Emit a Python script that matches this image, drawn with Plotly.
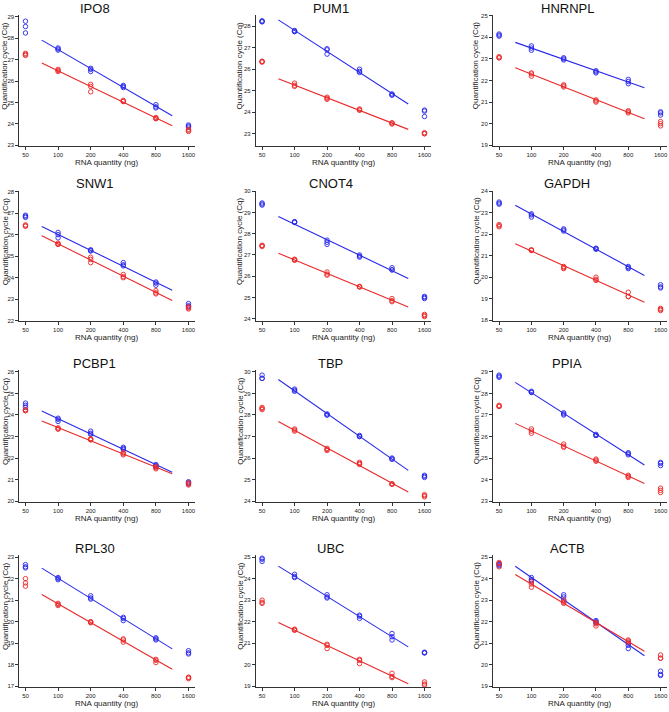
import numpy as np
import plotly.graph_objects as go

# ---------------- data ----------------
RNA_QTY = [50, 100, 200, 400, 800, 1600]
TICK_LABELS = ["50", "100", "200", "400", "800", "1600"]
GENES = ["IPO8", "PUM1", "HNRNPL", "SNW1", "CNOT4", "GAPDH",
         "PCBP1", "TBP", "PPIA", "RPL30", "UBC", "ACTB"]

# Cq replicates per RNA quantity (blue series / red series)
IPO8_BLUE = [[28.8, 28.55, 28.25], [27.55, 27.5, 27.45], [26.6, 26.55, 26.45],
             [25.8, 25.75, 25.7], [24.9, 24.8, 24.75], [23.95, 23.9, 23.85]]
IPO8_RED = [[27.3, 27.25, 27.2], [26.55, 26.5, 26.45], [25.85, 25.75, 25.5],
            [25.1, 25.05, 25.05], [24.3, 24.25, 24.25], [23.75, 23.7, 23.65]]

PUM1_BLUE = [[28.25, 28.22, 28.2], [27.8, 27.75, 27.75], [26.95, 26.9, 26.7],
             [26.0, 25.9, 25.85], [24.85, 24.8, 24.8], [24.1, 24.05, 23.8]]
PUM1_RED = [[26.37, 26.35, 26.33], [25.35, 25.25, 25.2], [24.7, 24.65, 24.6],
            [24.15, 24.1, 24.1], [23.5, 23.5, 23.45], [23.05, 23.0, 23.0]]

HNRNPL_BLUE = [[24.15, 24.1, 24.05], [23.6, 23.5, 23.4], [23.05, 23.0, 22.95],
               [22.45, 22.4, 22.35], [22.05, 21.95, 21.85], [20.55, 20.5, 20.4]]
HNRNPL_RED = [[23.1, 23.05, 23.05], [22.35, 22.3, 22.2], [21.8, 21.75, 21.7],
              [21.1, 21.05, 21.0], [20.6, 20.55, 20.5], [20.1, 20.0, 19.9]]

SNW1_BLUE = [[26.9, 26.85, 26.8], [26.1, 26.0, 25.85], [25.3, 25.25, 25.25],
             [24.7, 24.6, 24.55], [23.8, 23.75, 23.65], [22.8, 22.7, 22.65]]
SNW1_RED = [[26.45, 26.4, 26.4], [25.6, 25.55, 25.55], [24.95, 24.85, 24.7],
            [24.15, 24.05, 24.0], [23.4, 23.3, 23.25], [22.65, 22.6, 22.55]]

CNOT4_BLUE = [[29.45, 29.4, 29.35], [28.57, 28.55, 28.53], [27.7, 27.6, 27.5],
              [27.0, 26.95, 26.9], [26.4, 26.3, 26.3], [25.05, 25.0, 24.95]]
CNOT4_RED = [[27.45, 27.45, 27.4], [26.8, 26.78, 26.75], [26.2, 26.1, 26.05],
             [25.52, 25.5, 25.5], [24.95, 24.85, 24.8], [24.2, 24.15, 24.1]]

GAPDH_BLUE = [[23.5, 23.45, 23.4], [22.95, 22.9, 22.8], [22.25, 22.2, 22.15],
              [21.35, 21.33, 21.3], [20.5, 20.45, 20.4], [19.65, 19.55, 19.5]]
GAPDH_RED = [[22.45, 22.4, 22.35], [21.28, 21.25, 21.25], [20.5, 20.45, 20.4],
             [20.0, 19.9, 19.85], [19.3, 19.1, 19.1], [18.55, 18.5, 18.45]]

PCBP1_BLUE = [[24.55, 24.45, 24.35], [23.85, 23.8, 23.7], [23.25, 23.15, 23.1],
              [22.5, 22.45, 22.4], [21.7, 21.65, 21.6], [20.9, 20.85, 20.8]]
PCBP1_RED = [[24.25, 24.2, 24.2], [23.4, 23.35, 23.35], [22.9, 22.85, 22.85],
             [22.25, 22.2, 22.15], [21.6, 21.55, 21.5], [20.85, 20.8, 20.75]]

TBP_BLUE = [[29.85, 29.7, 29.7], [29.2, 29.15, 29.1], [28.05, 28.0, 28.0],
            [27.05, 27.0, 27.0], [26.0, 25.95, 25.95], [25.2, 25.15, 25.1]]
TBP_RED = [[28.35, 28.3, 28.25], [27.35, 27.3, 27.25], [26.45, 26.4, 26.35],
           [25.8, 25.75, 25.7], [24.8, 24.8, 24.78], [24.3, 24.25, 24.2]]

PPIA_BLUE = [[28.85, 28.8, 28.75], [28.1, 28.05, 28.05], [27.1, 27.05, 27.0],
             [26.1, 26.05, 26.05], [25.25, 25.2, 25.15], [24.8, 24.75, 24.65]]
PPIA_RED = [[27.45, 27.4, 27.4], [26.35, 26.25, 26.15], [25.65, 25.55, 25.5],
            [24.95, 24.9, 24.85], [24.2, 24.15, 24.1], [23.6, 23.5, 23.4]]

RPL30_BLUE = [[22.65, 22.55, 22.5], [22.05, 22.0, 21.95], [21.2, 21.1, 21.05],
              [20.2, 20.15, 20.05], [19.25, 19.2, 19.15], [18.65, 18.55, 18.5]]
RPL30_RED = [[22.0, 21.8, 21.65], [20.85, 20.8, 20.75], [20.0, 19.98, 19.95],
             [19.2, 19.15, 19.05], [18.25, 18.2, 18.1], [17.42, 17.4, 17.35]]

UBC_BLUE = [[24.95, 24.9, 24.8], [24.2, 24.1, 24.05], [23.25, 23.15, 23.1],
            [22.3, 22.25, 22.15], [21.45, 21.3, 21.15], [20.58, 20.55, 20.55]]
UBC_RED = [[23.0, 22.9, 22.85], [21.65, 21.62, 21.6], [20.95, 20.9, 20.75],
           [20.25, 20.2, 20.05], [19.6, 19.45, 19.4], [19.2, 19.1, 19.05]]

ACTB_BLUE = [[24.7, 24.65, 24.6], [24.05, 23.95, 23.9], [23.25, 23.15, 23.0],
             [22.05, 22.0, 21.95], [21.0, 20.9, 20.75], [19.7, 19.55, 19.5]]
ACTB_RED = [[24.75, 24.7, 24.55], [23.85, 23.75, 23.6], [23.0, 22.9, 22.85],
            [21.95, 21.9, 21.8], [21.15, 21.1, 21.05], [20.45, 20.3, 20.3]]

SERIES = {
    "IPO8": (IPO8_BLUE, IPO8_RED), "PUM1": (PUM1_BLUE, PUM1_RED),
    "HNRNPL": (HNRNPL_BLUE, HNRNPL_RED), "SNW1": (SNW1_BLUE, SNW1_RED),
    "CNOT4": (CNOT4_BLUE, CNOT4_RED), "GAPDH": (GAPDH_BLUE, GAPDH_RED),
    "PCBP1": (PCBP1_BLUE, PCBP1_RED), "TBP": (TBP_BLUE, TBP_RED),
    "PPIA": (PPIA_BLUE, PPIA_RED), "RPL30": (RPL30_BLUE, RPL30_RED),
    "UBC": (UBC_BLUE, UBC_RED), "ACTB": (ACTB_BLUE, ACTB_RED),
}

# ---------------- layout / style ----------------
W, H = 669, 712
BLUE = "rgb(40,40,235)"
RED = "rgb(235,40,40)"
AXC = "#333333"
FONT = "Liberation Sans, Arial, sans-serif"

COL_X = [(19.3, 195.0), (256.3, 431.3), (493.7, 667.7)]
ROW_Y = [(13.3, 145.0), (190.0, 321.5), (371.0, 503.3), (557.3, 689.7)]
YLABEL_X = [5, 240, 477]
Y_RANGES = {
    "IPO8": [22.97, 29.08], "PUM1": [22.43, 28.51], "HNRNPL": [18.97, 25.02],
    "SNW1": [21.98, 28.04], "CNOT4": [23.88, 30.03], "GAPDH": [17.95, 24.03],
    "PCBP1": [19.97, 26.07], "TBP": [23.97, 30.07], "PPIA": [22.97, 29.07],
    "RPL30": [16.97, 23.08], "UBC": [18.97, 25.08], "ACTB": [18.97, 25.08],
}
PAD = 0.19 * np.log10(2)
X_RANGE = [np.log10(RNA_QTY[0]) - PAD, np.log10(RNA_QTY[-1]) + PAD]
FIT_IDX = [1, 2, 3, 4]  # 100..800 ng used for the regression

fig = go.Figure()
annotations = []


def px_x(v):
    return v / W


def px_y(v):
    return 1 - v / H


for i, gene in enumerate(GENES):
    r, c = divmod(i, 3)
    n = "" if i == 0 else str(i + 1)
    xa, ya = "x" + n, "y" + n
    x0, x1 = COL_X[c]
    y0, y1 = ROW_Y[r]

    for vals, color, name in zip(SERIES[gene], (BLUE, RED), ("Series A", "Series B")):
        xs, ys = [], []
        for q, reps in zip(RNA_QTY, vals):
            xs += [q] * len(reps)
            ys += reps
        fig.add_trace(go.Scatter(
            x=xs, y=ys, mode="markers", xaxis=xa, yaxis=ya, name=name,
            showlegend=False, cliponaxis=False,
            marker=dict(symbol="circle-open", size=4.5, color=color, line=dict(width=0.9, color=color)),
        ))
        # linear regression of Cq vs log2(quantity), 100-800 ng
        fx, fy = [], []
        for k in FIT_IDX:
            fx += [np.log2(RNA_QTY[k])] * len(vals[k])
            fy += vals[k]
        slope, icpt = np.polyfit(fx, fy, 1)
        lx = np.array([np.log2(RNA_QTY[FIT_IDX[0]]) - 0.5, np.log2(RNA_QTY[FIT_IDX[-1]]) + 0.5])
        fig.add_trace(go.Scatter(
            x=2 ** lx, y=slope * lx + icpt, mode="lines", xaxis=xa, yaxis=ya,
            showlegend=False, line=dict(color=color, width=1.1), name=name + " fit",
        ))

    axis_common = dict(showline=True, linecolor=AXC, linewidth=1, ticks="outside",
                       ticklen=3, tickwidth=1, tickcolor=AXC, showgrid=False,
                       zeroline=False, tickfont=dict(size=6, color="#222", family=FONT))
    fig.update_layout(**{
        ("xaxis" + n): dict(axis_common, type="log", range=X_RANGE, tickvals=RNA_QTY,
                            ticktext=TICK_LABELS, domain=[px_x(x0), px_x(x1)], anchor=ya,
                            ticklabeloverflow="allow"),
        ("yaxis" + n): dict(axis_common, range=Y_RANGES[gene], dtick=1,
                            domain=[px_y(y1), px_y(y0)], anchor=xa),
    })

    cx = (x0 + x1) / 2
    annotations.append(dict(text=gene, x=px_x(cx - 12.5), y=px_y(y0 - 7), xref="paper", yref="paper",
                            showarrow=False, xanchor="center", yanchor="middle",
                            font=dict(size=13, color="#111", family=FONT)))
    annotations.append(dict(text="RNA quantity (ng)", x=px_x(cx), y=px_y(y1 + 16.5), xref="paper",
                            yref="paper", showarrow=False, xanchor="center", yanchor="middle",
                            font=dict(size=8, color="#222", family=FONT)))
    annotations.append(dict(text="Quantification cycle (Cq)", x=px_x(YLABEL_X[c]), y=px_y(y0 + 51),
                            xref="paper", yref="paper", showarrow=False, textangle=-90,
                            xanchor="center", yanchor="middle",
                            font=dict(size=8, color="#222", family=FONT)))

fig.update_layout(width=W, height=H, margin=dict(l=0, r=0, t=0, b=0),
                  paper_bgcolor="white", plot_bgcolor="white",
                  annotations=annotations, font=dict(family=FONT))
fig.write_html("out.html", config={"displayModeBar": False, "staticPlot": True},
               post_script="document.body.style.margin='0';document.body.style.overflow='hidden';")
